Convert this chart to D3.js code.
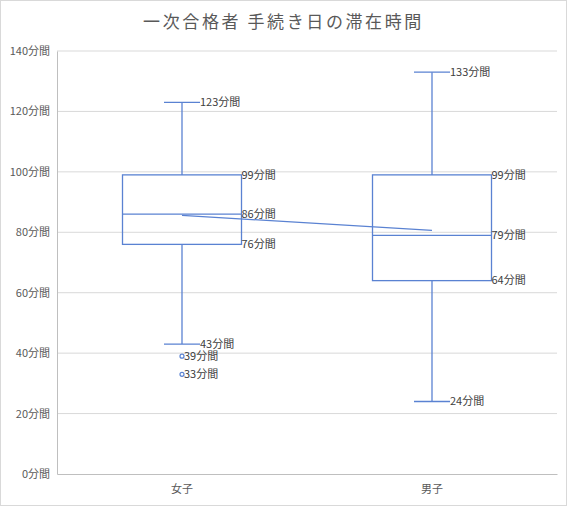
<!DOCTYPE html>
<html><head><meta charset="utf-8">
<script src="https://cdn.jsdelivr.net/npm/d3@7"></script>
<style>
body{margin:0;background:#fff;}
text{font-family:"Noto Sans CJK JP","Noto Sans",sans-serif;}
</style></head>
<body><svg id="c" width="567" height="506"></svg>
<script>
const title = "一次合格者 手続き日の滞在時間";
const categories = ["女子", "男子"];
const whiskerLow = [43, 24];
const q1 = [76, 64];
const median = [86, 79];
const q3 = [99, 99];
const whiskerHigh = [123, 133];
const means = [85.6, 80.6];
const outliers = [[39, 33], []];
const yTicks = [0, 20, 40, 60, 80, 100, 120, 140];
const unit = "分間";

const svg = d3.select("#c");
const W = 567, H = 506;
const m = {l: 57, r: 10, t: 51, b: 32};
const blue = "#5a82d2";

svg.append("rect").attr("x",0.5).attr("y",0.5).attr("width",W-1).attr("height",H-1)
  .attr("fill","#fff").attr("stroke","#d9d9d9");

svg.append("text").attr("x", W/2).attr("y", 28).attr("text-anchor","middle")
  .attr("font-size", 17).attr("letter-spacing", "2.6px").attr("fill","#595959").text(title);

const x = d3.scaleBand().domain(categories).range([m.l, W - m.r]);
const y = d3.scaleLinear().domain([0, 140]).range([H - m.b, m.t]);

// gridlines
svg.append("g").selectAll("line").data(yTicks.filter(d=>d>0)).join("line")
  .attr("x1", m.l).attr("x2", W - m.r).attr("y1", d=>y(d)).attr("y2", d=>y(d))
  .attr("stroke","#d9d9d9").attr("stroke-width",1);

// y axis
const ya = svg.append("g").attr("transform",`translate(${m.l},0)`)
  .call(d3.axisLeft(y).tickValues(yTicks).tickSize(0).tickPadding(7).tickFormat(d=>d+unit));
ya.select(".domain").attr("stroke","#bfbfbf");
ya.selectAll("text").attr("font-size",11).attr("fill","#595959").attr("font-family",'"Noto Sans CJK JP",sans-serif');

// x axis
const xa = svg.append("g").attr("transform",`translate(0,${y(0)})`)
  .call(d3.axisBottom(x).tickSize(0).tickPadding(11));
xa.select(".domain").attr("stroke","#bfbfbf");
xa.selectAll("text").attr("font-size",11).attr("fill","#595959").attr("font-family",'"Noto Sans CJK JP",sans-serif');

const boxW = x.bandwidth() * 0.476;
const capW = 36;
const g = svg.append("g");
const labelFont = 11, labelColor = "#404040";

categories.forEach((c, i) => {
  const cx = x(c) + x.bandwidth()/2;
  // whiskers
  g.append("line").attr("x1",cx).attr("x2",cx).attr("y1",y(whiskerHigh[i])).attr("y2",y(q3[i]))
    .attr("stroke",blue).attr("stroke-width",1.3);
  g.append("line").attr("x1",cx).attr("x2",cx).attr("y1",y(q1[i])).attr("y2",y(whiskerLow[i]))
    .attr("stroke",blue).attr("stroke-width",1.3);
  [whiskerHigh[i], whiskerLow[i]].forEach(v => {
    g.append("line").attr("x1",cx-capW/2).attr("x2",cx+capW/2).attr("y1",y(v)).attr("y2",y(v))
      .attr("stroke",blue).attr("stroke-width",1.3);
    g.append("text").attr("x",cx+capW/2).attr("y",y(v)).attr("dy","0.35em")
      .attr("font-size",labelFont).attr("fill",labelColor).text(v+unit);
  });
  // box
  g.append("rect").attr("x",cx-boxW/2).attr("y",y(q3[i])).attr("width",boxW)
    .attr("height",y(q1[i])-y(q3[i])).attr("fill","none").attr("stroke",blue).attr("stroke-width",1.3);
  g.append("line").attr("x1",cx-boxW/2).attr("x2",cx+boxW/2).attr("y1",y(median[i])).attr("y2",y(median[i]))
    .attr("stroke",blue).attr("stroke-width",1.3);
  [q3[i], median[i], q1[i]].forEach(v => {
    g.append("text").attr("x",cx+boxW/2).attr("y",y(v)).attr("dy","0.35em")
      .attr("font-size",labelFont).attr("fill",labelColor).text(v+unit);
  });
  // outliers
  outliers[i].forEach(v => {
    g.append("circle").attr("cx",cx).attr("cy",y(v)).attr("r",2)
      .attr("fill","#fff").attr("stroke",blue).attr("stroke-width",1.2);
    g.append("text").attr("x",cx+2).attr("y",y(v)).attr("dy","0.35em")
      .attr("font-size",labelFont).attr("fill",labelColor).text(v+unit);
  });
});

// mean line
const line = d3.line().x((d,i)=>x(categories[i])+x.bandwidth()/2).y(d=>y(d));
g.append("path").attr("d", line(means)).attr("fill","none").attr("stroke",blue).attr("stroke-width",1.3);
</script></body></html>
